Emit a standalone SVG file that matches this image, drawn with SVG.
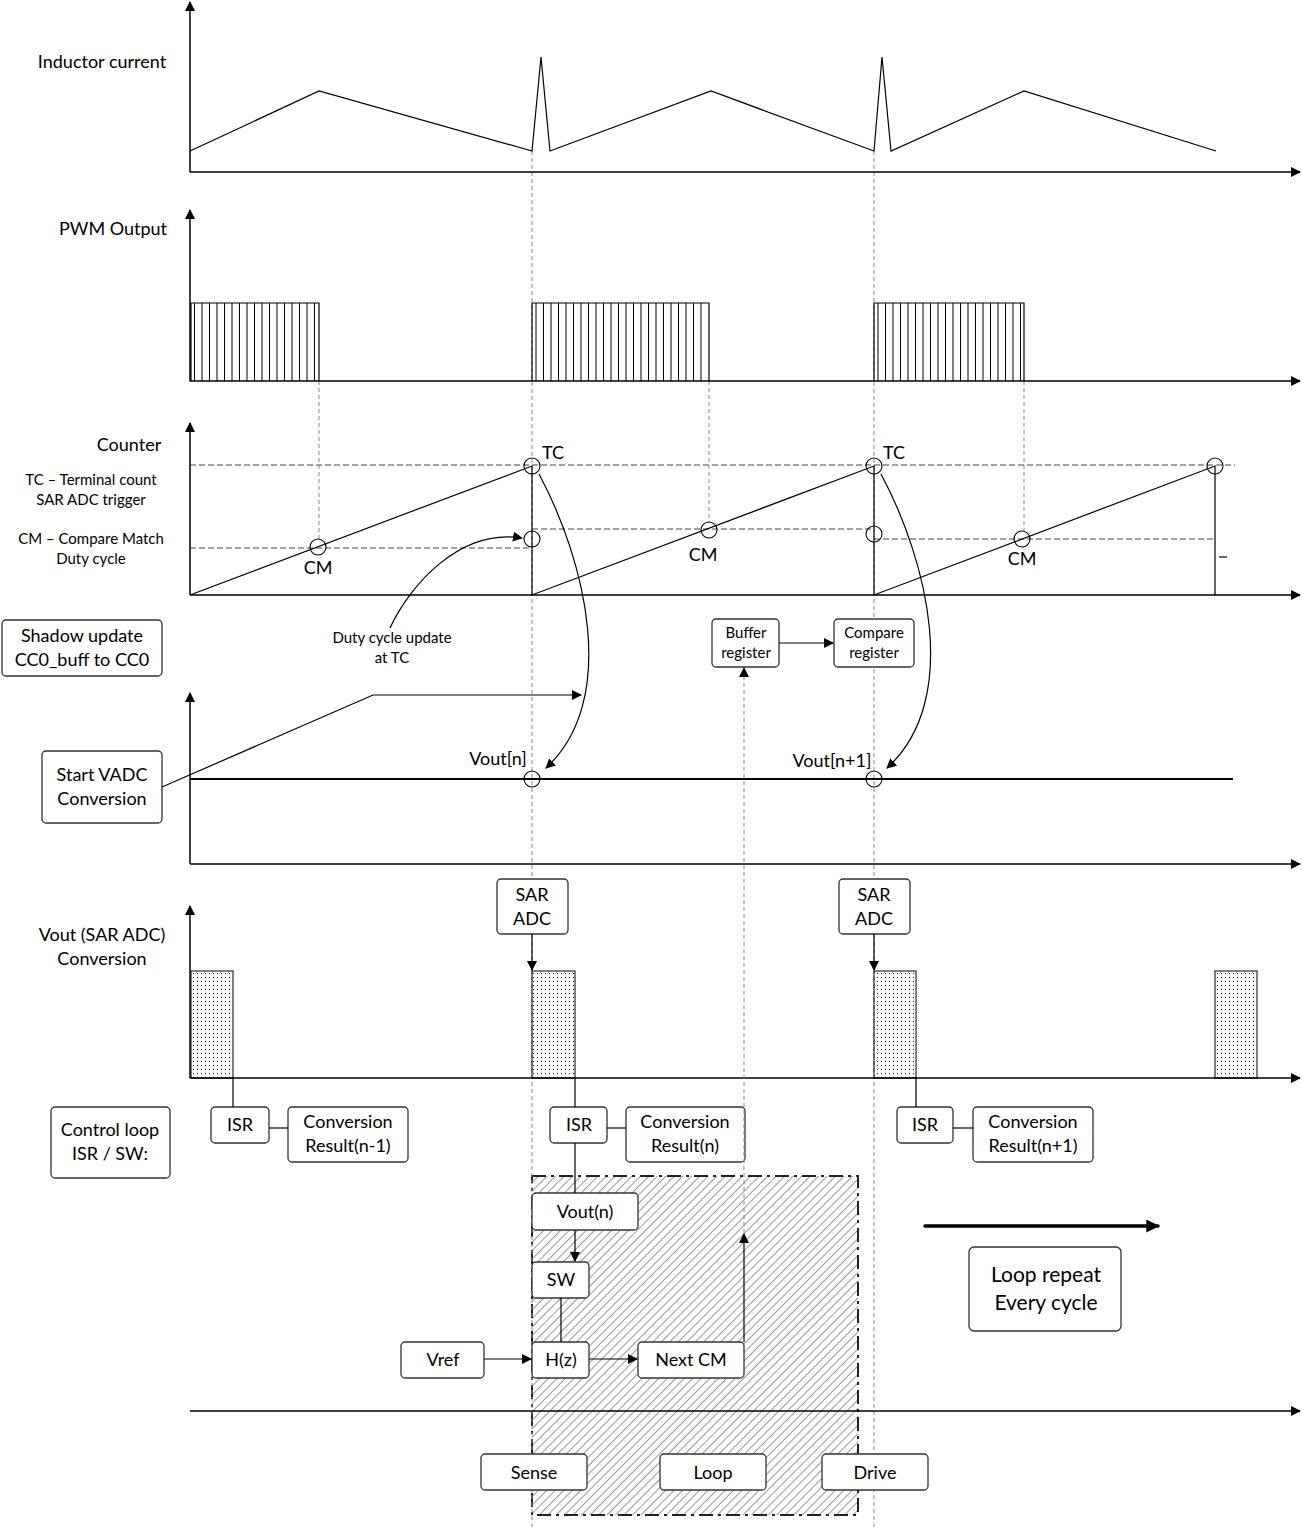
<svg xmlns="http://www.w3.org/2000/svg" width="1302" height="1527" viewBox="0 0 1302 1527">
<style>
text{font-family:Lato,"Noto Sans","Liberation Sans",sans-serif;fill:#000;text-anchor:middle}
.t18{font-size:18px}
.t15{font-size:15px}
.t21{font-size:21px}
.box{fill:#fff;stroke:#333;stroke-width:1.3}
.ax{stroke:#000;stroke-width:1.5;fill:none}
.ln{stroke:#000;stroke-width:1.2;fill:none}
.gd{stroke:#888;stroke-width:1;stroke-dasharray:4 3;fill:none}
.kd{stroke:#444;stroke-width:1.2;stroke-dasharray:6 3;fill:none}
.circ{fill:none;stroke:#000;stroke-width:1.1}
</style>
<defs>
<marker id="ar" viewBox="0 0 10 10" refX="9" refY="5" markerWidth="10" markerHeight="10" orient="auto" markerUnits="userSpaceOnUse">
<path d="M0,0 L10,5 L0,10 z" fill="#000"/>
</marker>
<marker id="arL" viewBox="0 0 10 10" refX="9" refY="5" markerWidth="13" markerHeight="13" orient="auto" markerUnits="userSpaceOnUse">
<path d="M0,0 L10,5 L0,10 z" fill="#000"/>
</marker>
<pattern id="dots" patternUnits="userSpaceOnUse" width="4" height="4">
<rect x="1" y="1" width="1" height="1" fill="#000"/>
</pattern>
<pattern id="hatch" patternUnits="userSpaceOnUse" width="6" height="6" patternTransform="rotate(45)">
<line x1="0" y1="0" x2="0" y2="6" stroke="#333" stroke-width="1"/>
</pattern>
</defs>

<!-- hatched loop region -->
<g id="loop-region">
<rect x="532" y="1176" width="326" height="339" fill="url(#hatch)"/>
<rect x="532" y="1176" width="326" height="339" fill="none" stroke="#222" stroke-width="2" stroke-dasharray="14 5 3 5"/>
</g>

<!-- guide lines -->
<g id="guides">
<line class="gd" x1="532" y1="151" x2="532" y2="1527"/>
<line class="gd" x1="874" y1="151" x2="874" y2="1527"/>
<line class="gd" x1="319" y1="381" x2="319" y2="540"/>
<line class="gd" x1="709" y1="381" x2="709" y2="522"/>
<line class="gd" x1="1024" y1="381" x2="1024" y2="531"/>
<line class="kd" x1="190" y1="465" x2="1235" y2="465"/>
<line class="kd" x1="190" y1="548" x2="532" y2="548"/>
<line class="kd" x1="532" y1="529" x2="874" y2="529"/>
<line class="kd" x1="874" y1="539" x2="1215" y2="539"/>
<line class="ln" x1="1219" y1="557" x2="1227" y2="557" stroke="#444"/>
</g>

<!-- Inductor current -->
<g id="inductor">
<line class="ax" x1="190" y1="172" x2="190" y2="2" marker-end="url(#ar)"/>
<line class="ax" x1="190" y1="172" x2="1300" y2="172" marker-end="url(#ar)"/>
<polyline class="ln" points="190,151 319,91 532,151 541,57 550,151 711,91 874,151 882,57 891,151 1024,91 1216,151"/>
<text class="t18" x="102" y="68">Inductor current</text>
</g>

<!-- PWM -->
<g id="pwm">
<line class="ax" x1="190" y1="381" x2="190" y2="210" marker-end="url(#ar)"/>
<line class="ax" x1="190" y1="381" x2="1300" y2="381" marker-end="url(#ar)"/>
<path class="ln" d="M191,381 V303 H319 V381 M532,381 V303 H709 V381 M874,381 V303 H1024 V381"/>
<path stroke="#000" stroke-width="1" d="M194.5,303V381M202,303V381M209.5,303V381M217,303V381M224.5,303V381M232,303V381M239.5,303V381M247,303V381M254.5,303V381M262,303V381M269.5,303V381M277,303V381M284.5,303V381M292,303V381M299.5,303V381M307,303V381M314.5,303V381
M536,303V381M543.5,303V381M551,303V381M558.5,303V381M566,303V381M573.5,303V381M581,303V381M588.5,303V381M596,303V381M603.5,303V381M611,303V381M618.5,303V381M626,303V381M633.5,303V381M641,303V381M648.5,303V381M656,303V381M663.5,303V381M671,303V381M678.5,303V381M686,303V381M693.5,303V381M701,303V381
M878,303V381M885.5,303V381M893,303V381M900.5,303V381M908,303V381M915.5,303V381M923,303V381M930.5,303V381M938,303V381M945.5,303V381M953,303V381M960.5,303V381M968,303V381M975.5,303V381M983,303V381M990.5,303V381M998,303V381M1005.5,303V381M1013,303V381M1020.5,303V381"/>
<text class="t18" x="113" y="235">PWM Output</text>
</g>

<!-- Counter -->
<g id="counter">
<line class="ax" x1="190" y1="595" x2="190" y2="423" marker-end="url(#ar)"/>
<line class="ax" x1="190" y1="595" x2="1300" y2="595" marker-end="url(#ar)"/>
<path class="ln" d="M190,595 L532,466 V595 L874,466 V595 L1215,466 V595"/>
<circle class="circ" cx="532" cy="466" r="8"/>
<circle class="circ" cx="874" cy="466" r="8"/>
<circle class="circ" cx="1215" cy="466" r="8"/>
<circle class="circ" cx="318" cy="547" r="8"/>
<circle class="circ" cx="709" cy="530" r="8"/>
<circle class="circ" cx="1022" cy="539" r="8"/>
<circle class="circ" cx="532" cy="539" r="8"/>
<circle class="circ" cx="874" cy="534" r="8"/>
<text class="t18" x="553" y="459">TC</text>
<text class="t18" x="894" y="459">TC</text>
<text class="t18" x="318" y="574">CM</text>
<text class="t18" x="703" y="561">CM</text>
<text class="t18" x="1022" y="565">CM</text>
<text class="t18" x="129" y="451">Counter</text>
<text class="t15" x="91" y="485">TC – Terminal count</text>
<text class="t15" x="91" y="505">SAR ADC trigger</text>
<text class="t15" x="91" y="544">CM – Compare Match</text>
<text class="t15" x="91" y="564">Duty cycle</text>
</g>

<!-- Shadow update -->
<g id="shadow">
<rect class="box" x="2" y="620" width="160" height="56" rx="4"/>
<text class="t18" x="82" y="642">Shadow update</text>
<text class="t18" x="82" y="666">CC0_buff to CC0</text>
<text class="t15" x="392" y="643">Duty cycle update</text>
<text class="t15" x="392" y="663">at TC</text>
</g>

<!-- Buffer / compare -->
<g id="buffer-register">
<rect class="box" x="712" y="619" width="67" height="48" rx="4"/>
<text class="t15" x="746" y="638">Buffer</text>
<text class="t15" x="746" y="658">register</text>
</g>
<g id="compare-register">
<rect class="box" x="834" y="619" width="80" height="48" rx="4"/>
<text class="t15" x="874" y="638">Compare</text>
<text class="t15" x="874" y="658">register</text>
</g>

<!-- Start VADC -->
<g id="vadc">
<line class="ax" x1="190" y1="864" x2="190" y2="693" marker-end="url(#ar)"/>
<line class="ax" x1="190" y1="864" x2="1300" y2="864" marker-end="url(#ar)" stroke="#333"/>
<line x1="190" y1="779" x2="1233" y2="779" stroke="#000" stroke-width="2"/>
<circle class="circ" cx="532" cy="779" r="8"/>
<circle class="circ" cx="874" cy="779" r="8"/>
<text class="t18" x="498" y="765">Vout[n]</text>
<text class="t18" x="832" y="767">Vout[n+1]</text>
</g>
<g id="start-vadc">
<rect class="box" x="42" y="751" width="120" height="72" rx="4"/>
<text class="t18" x="102" y="781">Start VADC</text>
<text class="t18" x="102" y="805">Conversion</text>
</g>

<!-- SAR ADC boxes -->
<g id="sar-adc-1">
<rect class="box" x="497" y="879" width="71" height="55" rx="4"/>
<text class="t18" x="532" y="901">SAR</text>
<text class="t18" x="532" y="925">ADC</text>
</g>
<g id="sar-adc-2">
<rect class="box" x="839" y="879" width="71" height="55" rx="4"/>
<text class="t18" x="874" y="901">SAR</text>
<text class="t18" x="874" y="925">ADC</text>
</g>

<!-- Vout SAR ADC conversion -->
<g id="conversion">
<line class="ax" x1="190" y1="1078" x2="190" y2="906" marker-end="url(#ar)"/>
<rect x="191" y="971" width="42" height="107" fill="url(#dots)" stroke="#000" stroke-width="1"/>
<rect x="532" y="971" width="43" height="107" fill="url(#dots)" stroke="#000" stroke-width="1"/>
<rect x="874" y="971" width="42" height="107" fill="url(#dots)" stroke="#000" stroke-width="1"/>
<rect x="1215" y="971" width="42" height="107" fill="url(#dots)" stroke="#000" stroke-width="1"/>
<line class="ax" x1="190" y1="1078" x2="1300" y2="1078" marker-end="url(#ar)"/>
<text class="t18" x="102" y="941">Vout (SAR ADC)</text>
<text class="t18" x="102" y="965">Conversion</text>
</g>

<!-- Control loop -->
<g id="control-loop">
<rect class="box" x="51" y="1107" width="119" height="71" rx="4"/>
<text class="t18" x="110" y="1136">Control loop</text>
<text class="t18" x="110" y="1160">ISR / SW:</text>
</g>
<g id="isr-1">
<rect class="box" x="211" y="1107" width="58" height="36" rx="4"/>
<text class="t18" x="240" y="1131">ISR</text>
</g>
<g id="result-1">
<rect class="box" x="288" y="1107" width="120" height="55" rx="4"/>
<text class="t18" x="348" y="1128">Conversion</text>
<text class="t18" x="348" y="1152">Result(n-1)</text>
</g>
<g id="isr-2">
<rect class="box" x="550" y="1107" width="57" height="36" rx="4"/>
<text class="t18" x="579" y="1131">ISR</text>
</g>
<g id="result-2">
<rect class="box" x="626" y="1107" width="119" height="55" rx="4"/>
<text class="t18" x="685" y="1128">Conversion</text>
<text class="t18" x="685" y="1152">Result(n)</text>
</g>
<g id="isr-3">
<rect class="box" x="897" y="1107" width="56" height="36" rx="4"/>
<text class="t18" x="925" y="1131">ISR</text>
</g>
<g id="result-3">
<rect class="box" x="973" y="1107" width="120" height="55" rx="4"/>
<text class="t18" x="1033" y="1128">Conversion</text>
<text class="t18" x="1033" y="1152">Result(n+1)</text>
</g>

<!-- loop nodes -->
<g id="vout-n">
<rect class="box" x="532" y="1193" width="106" height="37" rx="4"/>
<text class="t18" x="585" y="1218">Vout(n)</text>
</g>
<g id="sw">
<rect class="box" x="532" y="1262" width="57" height="36" rx="4"/>
<text class="t18" x="561" y="1286">SW</text>
</g>
<g id="hz">
<rect class="box" x="532" y="1342" width="57" height="36" rx="4"/>
<text class="t18" x="561" y="1366">H(z)</text>
</g>
<g id="vref">
<rect class="box" x="401" y="1342" width="83" height="36" rx="4"/>
<text class="t18" x="443" y="1366">Vref</text>
</g>
<g id="next-cm">
<rect class="box" x="638" y="1342" width="106" height="36" rx="4"/>
<text class="t18" x="691" y="1366">Next CM</text>
</g>

<g id="timeline">
<line class="ax" x1="190" y1="1411" x2="1300" y2="1411" marker-end="url(#ar)"/>
</g>
<g id="sense">
<rect class="box" x="481" y="1454" width="106" height="36" rx="4"/>
<text class="t18" x="534" y="1479">Sense</text>
</g>
<g id="loop">
<rect class="box" x="660" y="1454" width="106" height="36" rx="4"/>
<text class="t18" x="713" y="1479">Loop</text>
</g>
<g id="drive">
<rect class="box" x="822" y="1454" width="106" height="36" rx="4"/>
<text class="t18" x="875" y="1479">Drive</text>
</g>

<g id="loop-repeat">
<rect class="box" x="969" y="1247" width="152" height="84" rx="5"/>
<text class="t21" x="1046" y="1282">Loop repeat</text>
<text class="t21" x="1046" y="1310">Every cycle</text>
</g>

<!-- connectors -->
<g id="connectors">
<path class="ln" d="M390,628 C410,585 460,528 522,538" marker-end="url(#ar)"/>
<path class="ln" d="M539,474 C585,560 620,700 546,768" marker-end="url(#ar)"/>
<path class="ln" d="M881,474 C927,560 962,700 887,768" marker-end="url(#ar)"/>
<polyline class="ln" points="162,787 373,695 581,695" marker-end="url(#ar)"/>
<line class="ln" x1="779" y1="643" x2="833" y2="643" marker-end="url(#ar)"/>
<line class="gd" x1="744" y1="1240" x2="744" y2="668" marker-end="url(#ar)"/>
<line class="ln" x1="532" y1="934" x2="532" y2="970" marker-end="url(#ar)"/>
<line class="ln" x1="874" y1="934" x2="874" y2="970" marker-end="url(#ar)"/>
<line class="ln" x1="233" y1="1078" x2="233" y2="1107" stroke="#444"/>
<line class="ln" x1="269" y1="1128" x2="288" y2="1128" stroke="#444"/>
<line class="ln" x1="575" y1="1078" x2="575" y2="1107" stroke="#444"/>
<line class="ln" x1="575" y1="1143" x2="575" y2="1193" stroke="#444"/>
<line class="ln" x1="607" y1="1128" x2="626" y2="1128" stroke="#444"/>
<line class="ln" x1="916" y1="1078" x2="916" y2="1107" stroke="#444"/>
<line class="ln" x1="953" y1="1128" x2="973" y2="1128" stroke="#444"/>
<line class="ln" x1="575" y1="1230" x2="575" y2="1261" marker-end="url(#ar)"/>
<line class="ln" x1="561" y1="1298" x2="561" y2="1342"/>
<line class="ln" x1="484" y1="1359" x2="531" y2="1359" marker-end="url(#ar)"/>
<line class="ln" x1="589" y1="1359" x2="637" y2="1359" marker-end="url(#ar)"/>
<line class="ln" x1="744" y1="1342" x2="744" y2="1234" marker-end="url(#ar)"/>
<line x1="925" y1="1226" x2="1158" y2="1226" stroke="#000" stroke-width="3.5" stroke-linecap="round" marker-end="url(#arL)"/>
</g>
</svg>
